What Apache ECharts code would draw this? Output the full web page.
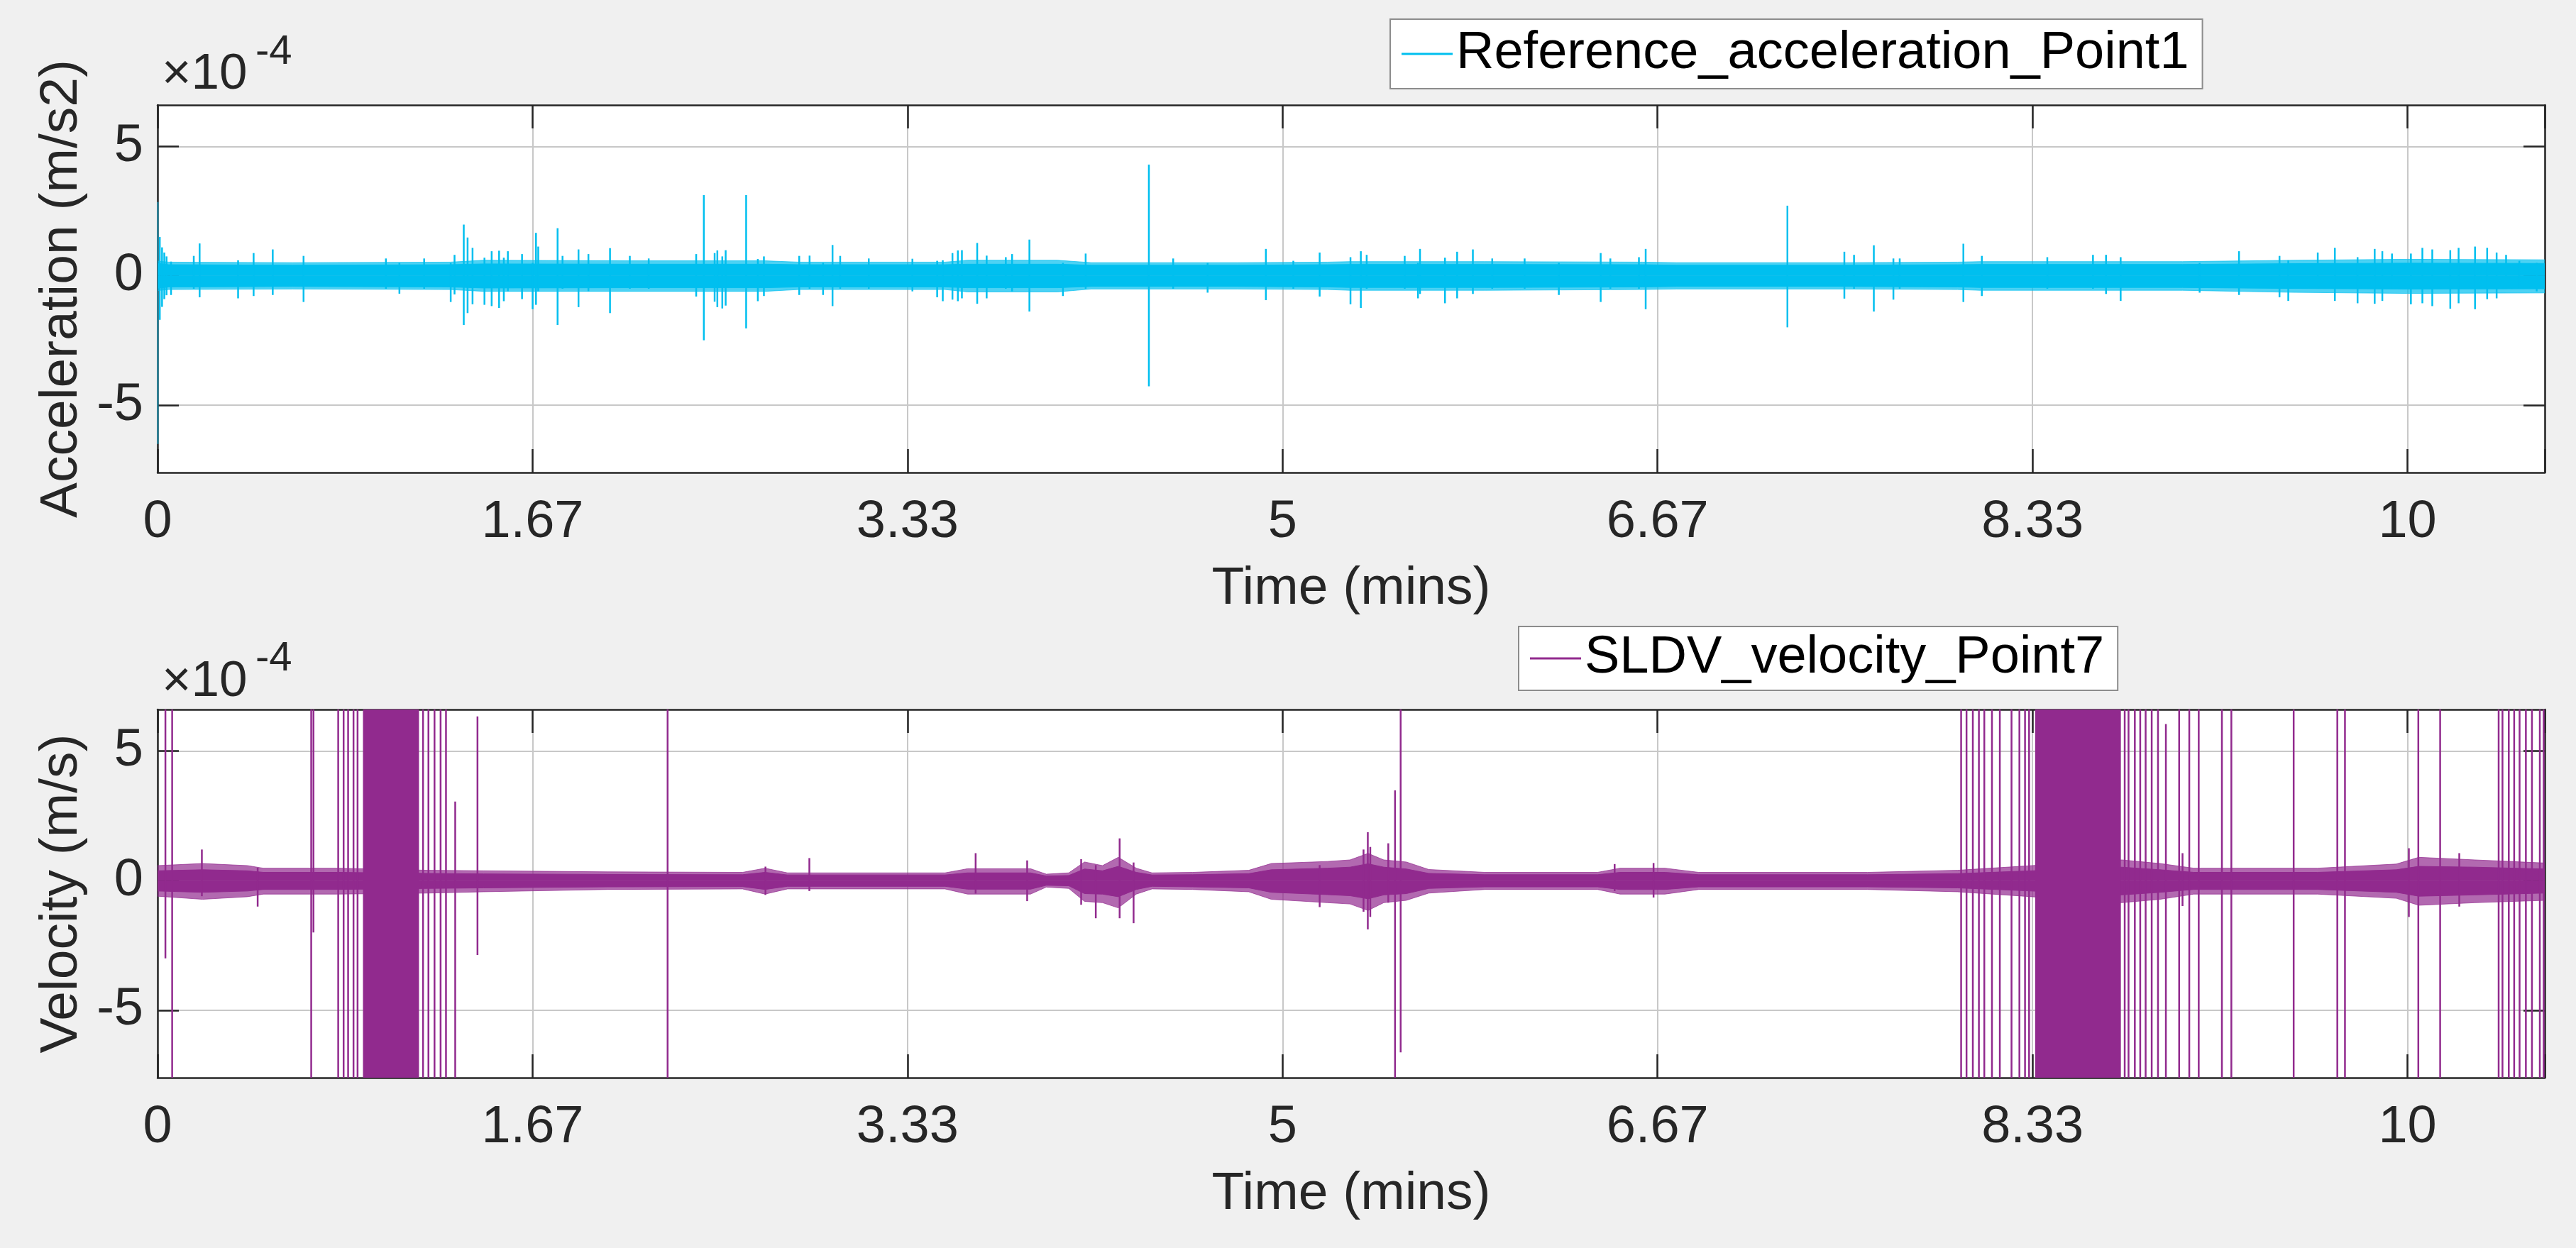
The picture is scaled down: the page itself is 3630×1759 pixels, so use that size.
<!DOCTYPE html>
<html>
<head>
<meta charset="utf-8">
<title>Reference acceleration / SLDV velocity</title>
<script src="https://cdn.jsdelivr.net/npm/echarts@6/dist/echarts.min.js"></script>
<style>
  html, body { margin: 0; padding: 0; background: #f0f0f0; }
  #chart { width: 3630px; height: 1759px; }
</style>
</head>
<body>
<div id="chart"></div>
<script>
// values are in units of 1e-4, time in minutes
const tMax = 10.61
const yMin = -7.6
const yMax = 6.6
const yTicks = [-5, 0, 5]

// acceleration: noise band, solid core and fuzzy outer edge
const accT = [0, 0.05, 0.6, 1.3, 1.45, 2.1, 2.7, 2.85, 3.5, 3.6, 4.0, 4.15, 4.8, 5.2, 5.3, 5.9, 6.6, 6.75, 7.5, 8.0, 8.1, 9.0, 9.5, 10.0, 10.61]
const accCoreHi = [0.48, 0.43, 0.41, 0.43, 0.46, 0.45, 0.45, 0.43, 0.43, 0.45, 0.45, 0.41, 0.41, 0.43, 0.44, 0.44, 0.43, 0.41, 0.41, 0.43, 0.44, 0.44, 0.47, 0.49, 0.48]
const accCoreLo = [-0.48, -0.43, -0.41, -0.43, -0.47, -0.46, -0.46, -0.43, -0.43, -0.46, -0.46, -0.41, -0.41, -0.43, -0.45, -0.45, -0.43, -0.41, -0.41, -0.43, -0.45, -0.45, -0.49, -0.51, -0.5]
const accFuzzHi = [0.57, 0.53, 0.51, 0.53, 0.6, 0.58, 0.58, 0.53, 0.53, 0.6, 0.6, 0.51, 0.51, 0.53, 0.55, 0.55, 0.53, 0.51, 0.51, 0.53, 0.55, 0.55, 0.6, 0.64, 0.62]
const accFuzzLo = [-0.57, -0.53, -0.51, -0.53, -0.6, -0.6, -0.6, -0.53, -0.53, -0.62, -0.62, -0.51, -0.51, -0.53, -0.56, -0.56, -0.53, -0.51, -0.51, -0.53, -0.56, -0.56, -0.64, -0.68, -0.66]

// acceleration: spikes sticking out of the band [time, top, bottom]
const accSpikes = [
  [0, 2.85, -6.5], [0.01, 1.5, -1.7], [0.02, 1.1, -1.2], [0.03, 0.9, -0.9], [0.04, 0.75, -0.75],
  [0.06, 0.55, -0.74], [0.161, 0.77, -0.5], [0.187, 1.25, -0.83], [0.358, 0.6, -0.87], [0.427, 0.88, -0.78],
  [0.512, 1.02, -0.74], [0.649, 0.77, -1.01], [1.015, 0.67, -0.5], [1.075, 0.5, -0.69], [1.185, 0.67, -0.5],
  [1.303, 0.5, -1.01], [1.32, 0.81, -0.72], [1.361, 1.98, -1.9], [1.378, 1.48, -1.44], [1.40, 1.08, -1.1],
  [1.453, 0.7, -1.12], [1.485, 0.95, -1.17], [1.518, 0.97, -1.24], [1.539, 0.7, -0.98], [1.557, 0.95, -0.6],
  [1.62, 0.84, -0.9], [1.667, 0.5, -1.29], [1.682, 1.66, -1.12], [1.692, 1.13, -0.6], [1.778, 1.84, -1.9],
  [1.80, 0.77, -0.5], [1.871, 1.02, -1.21], [1.915, 0.84, -0.6], [2.011, 1.07, -1.44], [2.099, 0.77, -0.5],
  [2.183, 0.67, -0.5], [2.394, 0.84, -0.8], [2.428, 3.12, -2.49], [2.476, 0.88, -1.0], [2.488, 0.98, -1.21],
  [2.51, 0.75, -1.26], [2.525, 0.99, -1.15], [2.616, 3.12, -2.03], [2.668, 0.65, -0.98], [2.695, 0.75, -0.78],
  [2.852, 0.77, -0.74], [2.898, 0.78, -0.5], [2.958, 0.5, -0.74], [3.0, 1.19, -1.17], [3.034, 0.77, -0.5],
  [3.161, 0.67, -0.5], [3.355, 0.66, -0.6], [3.465, 0.58, -0.83], [3.49, 0.6, -0.98], [3.533, 0.88, -0.92],
  [3.557, 0.98, -0.98], [3.575, 0.99, -0.87], [3.643, 1.27, -1.08], [3.685, 0.78, -0.87], [3.77, 0.72, -0.5],
  [3.798, 0.84, -0.6], [3.875, 1.4, -1.38], [4.024, 0.5, -0.78], [4.125, 0.86, -0.5], [4.406, 4.3, -4.27],
  [4.514, 0.67, -0.5], [4.667, 0.5, -0.65], [4.926, 1.04, -0.94], [5.048, 0.58, -0.5], [5.165, 0.9, -0.8],
  [5.302, 0.72, -1.1], [5.348, 0.95, -1.24], [5.374, 0.81, -0.5], [5.543, 0.77, -0.5], [5.602, 0.5, -0.87],
  [5.611, 1.04, -0.7], [5.722, 0.7, -1.06], [5.776, 0.93, -0.87], [5.846, 1.02, -0.7], [5.932, 0.67, -0.5],
  [6.076, 0.67, -0.5], [6.228, 0.5, -0.74], [6.414, 0.88, -1.01], [6.457, 0.67, -0.5], [6.584, 0.72, -0.5],
  [6.614, 1.04, -1.29], [7.244, 2.71, -1.99], [7.497, 0.93, -0.88], [7.54, 0.81, -0.5], [7.628, 1.18, -1.38],
  [7.715, 0.67, -0.92], [7.743, 0.67, -0.5], [8.026, 1.24, -1.01], [8.108, 0.77, -0.78], [8.399, 0.72, -0.5],
  [8.602, 0.81, -0.5], [8.66, 0.81, -0.7], [8.725, 0.72, -0.97], [9.076, 0.5, -0.65], [9.251, 0.95, -0.74],
  [9.431, 0.77, -0.83], [9.47, 0.6, -0.97], [9.601, 0.9, -0.5], [9.677, 1.08, -0.97], [9.778, 0.72, -1.06],
  [9.854, 1.04, -1.08], [9.888, 0.95, -0.97], [9.931, 0.86, -0.5], [10.015, 0.86, -1.1], [10.066, 1.08, -1.06],
  [10.11, 1.02, -1.17], [10.19, 0.99, -1.27], [10.227, 1.08, -1.06], [10.3, 1.13, -1.29], [10.354, 1.08, -0.9],
  [10.396, 0.9, -0.87], [10.438, 0.81, -0.5], [10.497, 0.58, -0.5], [10.574, 0.5, -0.6]
]

// velocity: noise band, solid core and fuzzy outer edge
const velT = [0, 0.2, 0.4, 0.47, 0.8, 1.2, 1.45, 2.0, 2.6, 2.7, 2.8, 3.5, 3.6, 3.88, 3.95, 4.05, 4.12, 4.2, 4.27, 4.35, 4.42, 4.6, 4.85, 4.95, 5.2, 5.3, 5.38, 5.45, 5.55, 5.65, 5.9, 6.4, 6.5, 6.7, 6.85, 7.6, 8.0, 8.33, 8.73, 8.9, 9.05, 9.6, 9.95, 10.05, 10.3, 10.61]
const velCoreHi = [0.38, 0.42, 0.38, 0.32, 0.32, 0.28, 0.26, 0.24, 0.23, 0.32, 0.22, 0.22, 0.3, 0.3, 0.18, 0.2, 0.45, 0.38, 0.55, 0.32, 0.22, 0.23, 0.27, 0.42, 0.48, 0.52, 0.65, 0.52, 0.45, 0.28, 0.23, 0.23, 0.32, 0.32, 0.23, 0.23, 0.27, 0.38, 0.52, 0.42, 0.32, 0.32, 0.42, 0.55, 0.52, 0.45]
const velCoreLo = [-0.4, -0.45, -0.4, -0.34, -0.34, -0.3, -0.28, -0.24, -0.23, -0.34, -0.22, -0.22, -0.33, -0.33, -0.18, -0.2, -0.5, -0.52, -0.62, -0.34, -0.22, -0.24, -0.28, -0.45, -0.54, -0.58, -0.7, -0.55, -0.5, -0.3, -0.24, -0.24, -0.34, -0.34, -0.24, -0.24, -0.28, -0.4, -0.55, -0.45, -0.34, -0.34, -0.45, -0.6, -0.55, -0.48]
const velFuzzHi = [0.58, 0.66, 0.58, 0.48, 0.48, 0.4, 0.38, 0.34, 0.32, 0.48, 0.3, 0.3, 0.46, 0.46, 0.25, 0.3, 0.72, 0.58, 0.9, 0.48, 0.3, 0.32, 0.4, 0.66, 0.74, 0.8, 1.05, 0.8, 0.72, 0.43, 0.32, 0.32, 0.48, 0.48, 0.32, 0.32, 0.4, 0.58, 0.8, 0.66, 0.48, 0.48, 0.64, 0.9, 0.8, 0.68]
const velFuzzLo = [-0.6, -0.72, -0.62, -0.52, -0.52, -0.48, -0.43, -0.34, -0.32, -0.52, -0.32, -0.32, -0.52, -0.52, -0.25, -0.3, -0.8, -0.85, -1.05, -0.52, -0.32, -0.34, -0.43, -0.72, -0.85, -0.9, -1.15, -0.85, -0.76, -0.48, -0.34, -0.34, -0.52, -0.52, -0.34, -0.34, -0.43, -0.62, -0.85, -0.72, -0.52, -0.52, -0.68, -0.95, -0.85, -0.76]

// velocity: spikes [time, top, bottom], most of them run off the axes
const velSpikes = [
  [0.035, 6.6, -3.0], [0.065, 6.6, -7.6], [0.197, 1.2, -0.6], [0.445, 0.5, -1.0], [0.683, 6.6, -7.6],
  [0.693, 6.6, -2.0], [0.803, 6.6, -7.6], [0.827, 6.6, -7.6], [0.847, 6.6, -7.6], [0.871, 6.6, -7.6],
  [0.889, 6.6, -7.6], [1.180, 6.6, -7.6], [1.204, 6.6, -7.6], [1.231, 6.6, -7.6], [1.258, 6.6, -7.6],
  [1.282, 6.6, -7.6], [1.323, 3.05, -7.6], [1.422, 6.33, -2.87], [2.267, 6.6, -7.6], [2.702, 0.54, -0.55],
  [2.897, 0.87, -0.4], [3.636, 1.06, -0.5], [3.865, 0.78, -0.79], [4.105, 0.83, -0.93], [4.17, 0.6, -1.45],
  [4.276, 1.63, -1.45], [4.338, 0.7, -1.64], [5.165, 0.6, -1.02], [5.36, 1.2, -1.2], [5.379, 1.87, -1.88],
  [5.39, 1.3, -1.4], [5.47, 1.44, -0.85], [5.50, 3.48, -7.6], [5.525, 6.6, -6.62], [6.476, 0.64, -0.4],
  [6.649, 0.68, -0.65], [8.016, 6.6, -7.6], [8.04, 6.6, -7.6], [8.068, 6.6, -7.6], [8.095, 6.6, -7.6],
  [8.119, 6.6, -7.6], [8.153, 6.6, -7.6], [8.188, 6.6, -7.6], [8.24, 6.6, -7.6], [8.275, 6.6, -7.6],
  [8.30, 6.6, -7.6], [8.318, 6.6, -7.6], [8.743, 6.6, -7.6], [8.760, 6.6, -7.6], [8.788, 6.6, -7.6],
  [8.812, 6.6, -7.6], [8.836, 6.6, -7.6], [8.863, 6.6, -7.6], [8.891, 6.6, -7.6], [8.926, 6.04, -7.6],
  [8.985, 6.6, -7.6], [9.0, 1.06, -0.98], [9.030, 6.6, -7.6], [9.072, 6.6, -7.6], [9.175, 6.6, -7.6],
  [9.217, 6.6, -7.6], [9.494, 6.6, -7.6], [9.688, 6.6, -7.6], [9.722, 6.6, -7.6], [10.006, 1.25, -1.4],
  [10.048, 6.6, -7.6], [10.145, 6.6, -7.6], [10.23, 1.06, -1.0], [10.405, 6.6, -7.6], [10.422, 6.6, -7.6],
  [10.45, 6.6, -7.6], [10.474, 6.6, -7.6], [10.498, 6.6, -7.6], [10.526, 6.6, -7.6], [10.553, 6.6, -7.6],
  [10.588, 6.6, -7.6], [10.605, 6.6, -7.6]
]

// velocity: saturated stretches (from, to)
const velBlockFrom = [0.913, 8.345]
const velBlockTo = [1.162, 8.726]

const accName = 'Reference_acceleration_Point1'
const velName = 'SLDV_velocity_Point7'
const accColor = '#00bfef'
const velColor = '#912a8e'
const ink = '#262626'
const gridColor = '#c8c8c8'
const font = '"Liberation Sans", Arial, Helvetica, sans-serif'

const chart = echarts.init(document.getElementById('chart'), null, { renderer: 'canvas' })

const lineStyle = { color: ink, width: 2.5 }

function xAxes(gi) {
  const base = { type: 'value', gridIndex: gi, min: 0, max: tMax, interval: 5 / 3 }
  return [
    {
      ...base,
      position: 'bottom',
      name: 'Time (mins)',
      nameLocation: 'middle',
      nameGap: 127,
      nameTextStyle: { fontSize: 75, fontFamily: font, color: ink },
      axisLine: { show: true, onZero: false, lineStyle },
      axisTick: { show: true, inside: true, length: 33, lineStyle },
      axisLabel: {
        margin: 34,
        fontSize: 74,
        fontFamily: font,
        color: ink,
        formatter: v => (Math.abs(v - tMax) < 1e-6 ? '' : String(+v.toFixed(2)))
      },
      splitLine: { show: true, lineStyle: { color: gridColor, width: 2 } }
    },
    {
      ...base,
      position: 'top',
      axisLine: { show: true, onZero: false, lineStyle },
      axisTick: { show: true, inside: true, length: 33, lineStyle },
      axisLabel: { show: false },
      splitLine: { show: false }
    }
  ]
}

function yAxes(gi, name) {
  const base = { type: 'value', gridIndex: gi, min: yMin, max: yMax }
  return [
    {
      ...base,
      position: 'left',
      name: name,
      nameLocation: 'middle',
      nameGap: 97,
      nameTextStyle: { fontSize: 75, fontFamily: font, color: ink },
      axisLine: { show: true, onZero: false, lineStyle },
      axisTick: { show: true, inside: true, length: 30, lineStyle, customValues: yTicks },
      axisLabel: { margin: 20, fontSize: 74, fontFamily: font, color: ink, customValues: yTicks },
      splitLine: { show: true, lineStyle: { color: gridColor, width: 2 } }
    },
    {
      ...base,
      position: 'right',
      axisLine: { show: true, onZero: false, lineStyle },
      axisTick: { show: true, inside: true, length: 30, lineStyle, customValues: yTicks },
      axisLabel: { show: false },
      splitLine: { show: false }
    }
  ]
}

// filled band between a value and the zero line
function band(name, t, v, color, gi, opacity, z) {
  return {
    name: name,
    type: 'line',
    xAxisIndex: gi * 2,
    yAxisIndex: gi * 2,
    data: t.map((x, i) => [x, v[i]]),
    symbol: 'none',
    showSymbol: false,
    lineStyle: { color: color, width: 1, opacity: opacity },
    itemStyle: { color: color },
    areaStyle: { color: color, opacity: opacity },
    silent: true,
    z: z
  }
}

function spikes(name, rows, color, gi) {
  return {
    name: name,
    type: 'custom',
    xAxisIndex: gi * 2,
    yAxisIndex: gi * 2,
    clip: true,
    data: rows,
    encode: { x: 0, y: [1, 2] },
    renderItem: (params, api) => {
      const a = api.coord([api.value(0), api.value(1)])
      const b = api.coord([api.value(0), api.value(2)])
      return {
        type: 'line',
        shape: { x1: a[0], y1: a[1], x2: b[0], y2: b[1] },
        style: { stroke: color, lineWidth: 2.5 }
      }
    },
    silent: true,
    z: 4
  }
}

function blocks(name, from, to, color, gi) {
  return {
    name: name,
    type: 'custom',
    xAxisIndex: gi * 2,
    yAxisIndex: gi * 2,
    clip: true,
    data: from.map((x, i) => [x, to[i]]),
    encode: { x: [0, 1] },
    renderItem: (params, api) => {
      const a = api.coord([api.value(0), yMax])
      const b = api.coord([api.value(1), yMin])
      return {
        type: 'rect',
        shape: { x: a[0], y: a[1], width: b[0] - a[0], height: b[1] - a[1] },
        style: { fill: color }
      }
    },
    silent: true,
    z: 4
  }
}

function legend(name, left, top, padV) {
  return {
    data: [{ name: name, icon: 'rect' }],
    left: left,
    top: top,
    itemWidth: 72,
    itemHeight: 3,
    selectedMode: false,
    backgroundColor: '#ffffff',
    borderColor: '#8c8c8c',
    borderWidth: 2,
    borderRadius: 0,
    padding: [padV, 19, padV, 16],
    textStyle: { fontSize: 74, fontFamily: font, color: '#000', lineHeight: 80 }
  }
}

function exponent(top) {
  return [
    {
      type: 'text', x: 228, y: top + 32,
      style: { text: '×10', font: '71px ' + font, fill: ink, textAlign: 'left', textVerticalAlign: 'middle' }
    },
    {
      type: 'text', x: 360, y: top,
      style: { text: '-4', font: '58px ' + font, fill: ink, textAlign: 'left', textVerticalAlign: 'middle' }
    }
  ]
}

chart.setOption({
  backgroundColor: '#f0f0f0',
  animation: false,
  grid: [
    { left: 222, top: 148, width: 3364, height: 518, show: true, backgroundColor: '#ffffff', borderWidth: 0, outerBoundsMode: 'none' },
    { left: 222, top: 1000, width: 3364, height: 519, show: true, backgroundColor: '#ffffff', borderWidth: 0, outerBoundsMode: 'none' }
  ],
  xAxis: [...xAxes(0), ...xAxes(1)],
  yAxis: [...yAxes(0, 'Acceleration (m/s2)'), ...yAxes(1, 'Velocity (m/s)')],
  legend: [legend(accName, 1959, 27, 9), legend(velName, 2140, 883, 5)],
  graphic: [...exponent(73.5), ...exponent(929)],
  series: [
    band(accName, accT, accCoreHi, accColor, 0, 1, 3),
    band('acc_core_low', accT, accCoreLo, accColor, 0, 1, 3),
    band('acc_fuzz_high', accT, accFuzzHi, accColor, 0, 0.7, 2),
    band('acc_fuzz_low', accT, accFuzzLo, accColor, 0, 0.7, 2),
    spikes('acc_spikes', accSpikes, accColor, 0),
    band(velName, velT, velCoreHi, velColor, 1, 1, 3),
    band('vel_core_low', velT, velCoreLo, velColor, 1, 1, 3),
    band('vel_fuzz_high', velT, velFuzzHi, velColor, 1, 0.7, 2),
    band('vel_fuzz_low', velT, velFuzzLo, velColor, 1, 0.7, 2),
    spikes('vel_spikes', velSpikes, velColor, 1),
    blocks('vel_blocks', velBlockFrom, velBlockTo, velColor, 1)
  ]
})
</script>
</body>
</html>
